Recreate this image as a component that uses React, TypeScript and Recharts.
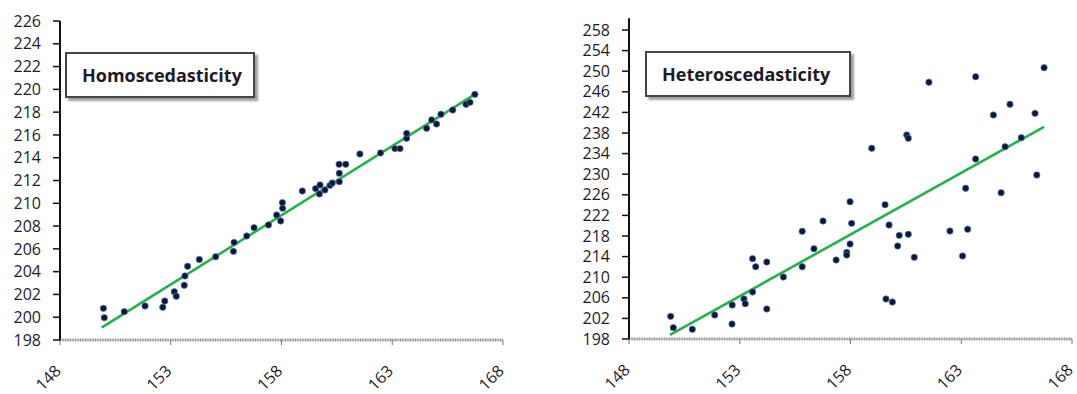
import { ScatterChart, Scatter, XAxis, YAxis, ReferenceLine } from "recharts"

const xTicks = [148, 153, 158, 163, 168]
const homoYTicks = [198, 200, 202, 204, 206, 208, 210, 212, 214, 216, 218, 220, 222, 224, 226]
const heteroYTicks = [198, 202, 206, 210, 214, 218, 222, 226, 230, 234, 238, 242, 246, 250, 254, 258]

const homoX = [
  149.96, 150.0, 150.9, 151.84, 152.64, 152.73, 153.16, 153.25, 153.61, 153.64, 153.76, 154.29, 155.03,
  155.83, 155.86, 156.43, 156.76, 157.41, 157.78, 157.96, 158.05, 158.04, 158.94, 159.54, 159.74, 159.71,
  159.96, 160.19, 160.29, 160.61, 160.61, 160.6, 160.9, 161.54, 162.47, 163.12, 163.35, 163.65, 163.65,
  164.55, 164.78, 165.0, 165.2, 165.73, 166.33, 166.51, 166.73,
]
const homoY = [
  200.78, 199.96, 200.49, 200.99, 200.87, 201.42, 202.24, 201.84, 202.8, 203.62, 204.47, 205.07, 205.31,
  205.78, 206.57, 207.13, 207.86, 208.1, 208.97, 208.45, 209.56, 210.06, 211.08, 211.29, 211.61, 210.82,
  211.17, 211.58, 211.78, 211.9, 212.63, 213.42, 213.42, 214.33, 214.42, 214.8, 214.8, 215.7, 216.14,
  216.58, 217.32, 216.96, 217.81, 218.19, 218.69, 218.86, 219.56,
]
const homoTrendX = [149.88, 166.8]
const homoTrendY = [199.08, 219.65]

const heteroX = [
  149.88, 150.0, 150.86, 151.87, 152.65, 152.66, 153.19, 153.25, 153.58, 153.72, 153.58, 154.22, 154.22,
  154.97, 155.82, 155.82, 156.35, 156.76, 157.35, 157.83, 157.83, 157.98, 158.05, 157.98, 158.96, 159.56,
  159.74, 160.2, 160.13, 160.61, 160.88, 159.6, 159.89, 160.54, 160.61, 161.54, 162.49, 163.06, 163.2,
  163.29, 163.65, 163.65, 164.45, 164.8, 164.98, 165.2, 165.71, 166.33, 166.41, 166.74,
]
const heteroY = [
  202.4, 200.2, 199.88, 202.66, 200.9, 204.6, 205.77, 204.85, 213.6, 212.04, 207.13, 212.95, 203.83,
  210.04, 218.91, 212.04, 215.53, 220.91, 213.34, 214.83, 214.31, 224.66, 220.46, 216.45, 235.03, 224.08,
  220.14, 218.13, 216.06, 218.33, 213.86, 205.77, 205.18, 237.61, 236.97, 247.84, 218.97, 214.12, 227.26,
  219.3, 248.93, 232.95, 241.5, 226.41, 235.34, 243.57, 237.09, 241.82, 229.84, 250.68,
]
const heteroTrendX = [149.85, 166.74]
const heteroTrendY = [198.78, 239.2]

const FONT = "'Open Sans', sans-serif"
const TEXT = "#1c1c28"
const GREEN = "#22b24a"

const zip = (xs: number[], ys: number[]) => xs.map((x, i) => ({ x, y: ys[i] }))

const Dot = (props: any) => {
  const { cx, cy } = props
  if (cx == null || cy == null) return <g />
  return <circle cx={cx} cy={cy} r={3.2} fill="#0b1836" stroke="#5d7bb5" strokeWidth={0.7} />
}

const NoDot = () => <g />

const XTick = (props: any) => {
  const { x, y, payload } = props
  const ax = x + 2
  const ay = y + 25
  return (
    <text
      x={ax}
      y={ay}
      transform={`rotate(-45, ${ax}, ${ay})`}
      textAnchor="end"
      fontFamily={FONT}
      fontSize={16}
      fill={TEXT}
    >
      {payload.value}
    </text>
  )
}

interface PanelProps {
  left: number
  width: number
  margin: { top: number; right: number; bottom: number; left: number }
  xAxisHeight: number
  yTicks: number[]
  axisOvershoot: number
  points: { x: number; y: number }[]
  trend: { x: number; y: number }[]
  title: string
  box: { left: number; top: number; width: number; height: number }
}

function Panel({ left, width, margin, xAxisHeight, yTicks, axisOvershoot, points, trend, title, box }: PanelProps) {
  const yMin = yTicks[0]
  const yMax = yTicks[yTicks.length - 1]
  return (
    <div style={{ position: "absolute", left, top: 0, width, height: 394 }}>
      <ScatterChart width={width} height={394} margin={margin}>
        <XAxis
          type="number"
          dataKey="x"
          domain={[148, 168]}
          ticks={xTicks}
          interval={0}
          axisLine={{ stroke: "#8a8a8a", strokeWidth: 1 }}
          tickLine={{ stroke: "#777" }}
          tickSize={5}
          tickMargin={2}
          height={xAxisHeight}
          tick={<XTick />}
        />
        <YAxis
          type="number"
          dataKey="y"
          domain={[yMin, yMax]}
          ticks={yTicks}
          interval={0}
          width={40}
          axisLine={{ stroke: "#111", strokeWidth: 2 }}
          tickLine={{ stroke: "#111", strokeWidth: 1.5 }}
          tickSize={7}
          tickMargin={12}
          tick={{ fontFamily: FONT, fontSize: 16, fill: TEXT }}
        />
        <ReferenceLine y={yMin} stroke="#b5b5b5" strokeWidth={4} strokeDasharray="1 1.5" />
        {axisOvershoot > 0 && (
          <ReferenceLine
            segment={[
              { x: 148, y: yMax },
              { x: 148, y: yMax + axisOvershoot },
            ]}
            stroke="#111"
            strokeWidth={2}
            ifOverflow="visible"
          />
        )}
        <Scatter data={trend} line={{ stroke: GREEN, strokeWidth: 2.6 }} shape={<NoDot />} isAnimationActive={false} />
        <Scatter data={points} shape={<Dot />} isAnimationActive={false} />
      </ScatterChart>
      <div
        style={{
          position: "absolute",
          left: box.left,
          top: box.top,
          width: box.width,
          height: box.height,
          boxSizing: "border-box",
          border: "2px solid #444",
          boxShadow: "3px 3px 2px #a0a0a0",
          background: "#fff",
          display: "flex",
          alignItems: "center",
          paddingLeft: 15,
          fontFamily: FONT,
          fontWeight: 700,
          fontSize: 18,
          color: TEXT,
        }}
      >
        {title}
      </div>
    </div>
  )
}

export default function App() {
  return (
    <div style={{ position: "absolute", left: 0, top: 0, width: 1077, height: 394, background: "#fff", overflow: "hidden" }}>
      <Panel
        left={0}
        width={540}
        margin={{ top: 21, right: 37, bottom: 10, left: 20 }}
        xAxisHeight={44}
        yTicks={homoYTicks}
        axisOvershoot={0}
        points={zip(homoX, homoY)}
        trend={zip(homoTrendX, homoTrendY)}
        title="Homoscedasticity"
        box={{ left: 65, top: 52, width: 190, height: 46 }}
      />
      <Panel
        left={540}
        width={537}
        margin={{ top: 30, right: 5, bottom: 10, left: 49 }}
        xAxisHeight={45}
        yTicks={heteroYTicks}
        axisOvershoot={2.3}
        points={zip(heteroX, heteroY)}
        trend={zip(heteroTrendX, heteroTrendY)}
        title="Heteroscedasticity"
        box={{ left: 105, top: 51, width: 206, height: 46 }}
      />
    </div>
  )
}
